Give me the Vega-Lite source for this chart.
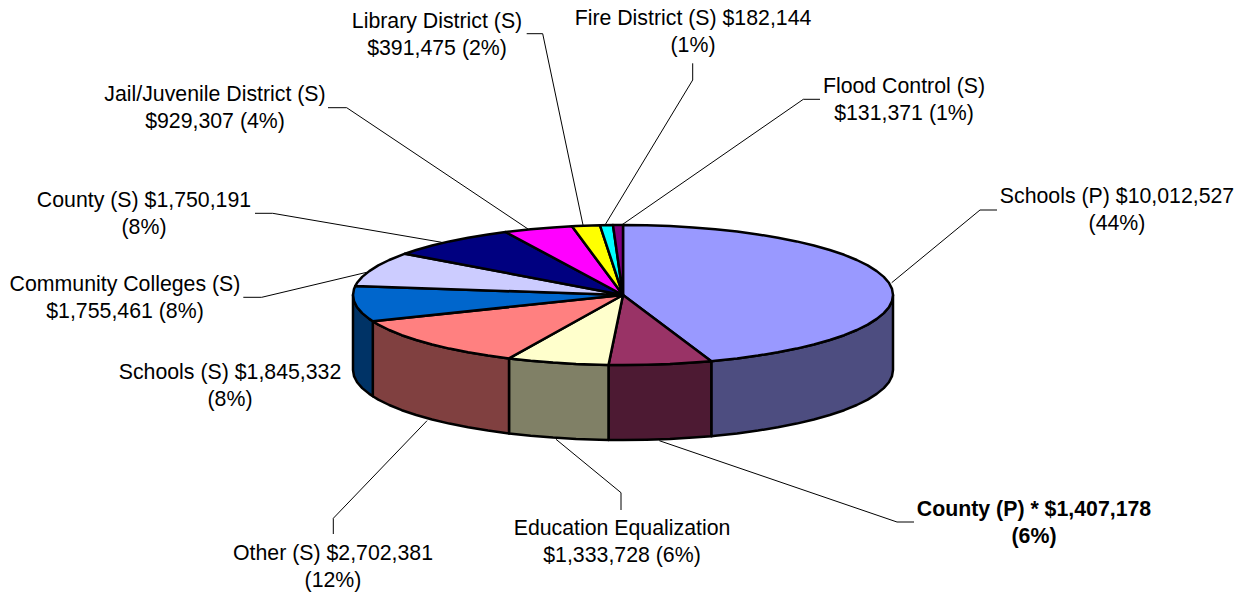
{
"$schema":"https://vega.github.io/schema/vega-lite/v6.json",
"width":1241,"height":595,"autosize":{"type":"fit","contains":"padding"},"padding":0,
"background":"white","view":{"stroke":null},
"config":{"axis":{"grid":false}},
"datasets":{
"side":[
{"s":"A","x":893,"y":295,"y2":370},{"s":"A","x":892,"y":301.1,"y2":376.1},{"s":"A","x":888.9,"y":307.2,"y2":382.2},{"s":"A","x":883.8,"y":313.1,"y2":388.1},{"s":"A","x":876.7,"y":318.9,"y2":393.9},{"s":"A","x":867.7,"y":324.6,"y2":399.6},{"s":"A","x":856.8,"y":330,"y2":405},{"s":"A","x":844.2,"y":335.2,"y2":410.2},{"s":"A","x":829.8,"y":340,"y2":415},{"s":"A","x":813.9,"y":344.5,"y2":419.5},{"s":"A","x":796.6,"y":348.6,"y2":423.6},{"s":"A","x":777.9,"y":352.3,"y2":427.3},{"s":"A","x":758,"y":355.6,"y2":430.6},{"s":"A","x":737.1,"y":358.4,"y2":433.4},{"s":"A","x":715.3,"y":360.8,"y2":435.8},{"s":"A","x":711.3,"y":361.2,"y2":436.2},
{"s":"B","x":711.3,"y":361.2,"y2":436.2},{"s":"B","x":692.9,"y":362.6,"y2":437.6},{"s":"B","x":669.9,"y":363.9,"y2":438.9},{"s":"B","x":646.5,"y":364.7,"y2":439.7},{"s":"B","x":623,"y":365,"y2":440},{"s":"B","x":608.5,"y":364.9,"y2":439.9},
{"s":"C","x":608.5,"y":364.9,"y2":439.9},{"s":"C","x":599.5,"y":364.7,"y2":439.7},{"s":"C","x":576.1,"y":363.9,"y2":438.9},{"s":"C","x":553.1,"y":362.6,"y2":437.6},{"s":"C","x":530.7,"y":360.8,"y2":435.8},{"s":"C","x":509,"y":358.4,"y2":433.4},
{"s":"D","x":509,"y":358.4,"y2":433.4},{"s":"D","x":488,"y":355.6,"y2":430.6},{"s":"D","x":468.1,"y":352.3,"y2":427.3},{"s":"D","x":449.4,"y":348.6,"y2":423.6},{"s":"D","x":432.1,"y":344.5,"y2":419.5},{"s":"D","x":416.2,"y":340,"y2":415},{"s":"D","x":401.8,"y":335.2,"y2":410.2},{"s":"D","x":389.2,"y":330,"y2":405},{"s":"D","x":378.3,"y":324.6,"y2":399.6},{"s":"D","x":372.8,"y":321.3,"y2":396.3},
{"s":"E","x":372.8,"y":321.3,"y2":396.3},{"s":"E","x":369.3,"y":318.9,"y2":393.9},{"s":"E","x":362.2,"y":313.1,"y2":388.1},{"s":"E","x":357.1,"y":307.2,"y2":382.2},{"s":"E","x":354,"y":301.1,"y2":376.1},{"s":"E","x":353,"y":295,"y2":370}
],
"top":[
{"s":"A","i":0,"x":623,"y":295},{"s":"A","i":1,"x":623,"y":225},{"s":"A","i":2,"x":646.5,"y":225.3},{"s":"A","i":3,"x":669.9,"y":226.1},{"s":"A","i":4,"x":692.9,"y":227.4},{"s":"A","i":5,"x":715.3,"y":229.2},{"s":"A","i":6,"x":737.1,"y":231.6},{"s":"A","i":7,"x":758,"y":234.4},{"s":"A","i":8,"x":777.9,"y":237.7},{"s":"A","i":9,"x":796.6,"y":241.4},{"s":"A","i":10,"x":813.9,"y":245.5},{"s":"A","i":11,"x":829.8,"y":250},{"s":"A","i":12,"x":844.2,"y":254.8},{"s":"A","i":13,"x":856.8,"y":260},{"s":"A","i":14,"x":867.7,"y":265.4},{"s":"A","i":15,"x":876.7,"y":271.1},{"s":"A","i":16,"x":883.8,"y":276.9},{"s":"A","i":17,"x":888.9,"y":282.8},{"s":"A","i":18,"x":892,"y":288.9},{"s":"A","i":19,"x":893,"y":295},{"s":"A","i":20,"x":892,"y":301.1},{"s":"A","i":21,"x":888.9,"y":307.2},{"s":"A","i":22,"x":883.8,"y":313.1},{"s":"A","i":23,"x":876.7,"y":318.9},{"s":"A","i":24,"x":867.7,"y":324.6},{"s":"A","i":25,"x":856.8,"y":330},{"s":"A","i":26,"x":844.2,"y":335.2},{"s":"A","i":27,"x":829.8,"y":340},{"s":"A","i":28,"x":813.9,"y":344.5},{"s":"A","i":29,"x":796.6,"y":348.6},{"s":"A","i":30,"x":777.9,"y":352.3},{"s":"A","i":31,"x":758,"y":355.6},{"s":"A","i":32,"x":737.1,"y":358.4},{"s":"A","i":33,"x":715.3,"y":360.8},{"s":"A","i":34,"x":711.3,"y":361.2},{"s":"A","i":35,"x":623,"y":295},
{"s":"B","i":0,"x":623,"y":295},{"s":"B","i":1,"x":711.3,"y":361.2},{"s":"B","i":2,"x":692.9,"y":362.6},{"s":"B","i":3,"x":669.9,"y":363.9},{"s":"B","i":4,"x":646.5,"y":364.7},{"s":"B","i":5,"x":623,"y":365},{"s":"B","i":6,"x":608.5,"y":364.9},{"s":"B","i":7,"x":623,"y":295},
{"s":"C","i":0,"x":623,"y":295},{"s":"C","i":1,"x":608.5,"y":364.9},{"s":"C","i":2,"x":599.5,"y":364.7},{"s":"C","i":3,"x":576.1,"y":363.9},{"s":"C","i":4,"x":553.1,"y":362.6},{"s":"C","i":5,"x":530.7,"y":360.8},{"s":"C","i":6,"x":509,"y":358.4},{"s":"C","i":7,"x":623,"y":295},
{"s":"D","i":0,"x":623,"y":295},{"s":"D","i":1,"x":509,"y":358.4},{"s":"D","i":3,"x":488,"y":355.6},{"s":"D","i":4,"x":468.1,"y":352.3},{"s":"D","i":5,"x":449.4,"y":348.6},{"s":"D","i":6,"x":432.1,"y":344.5},{"s":"D","i":7,"x":416.2,"y":340},{"s":"D","i":8,"x":401.8,"y":335.2},{"s":"D","i":9,"x":389.2,"y":330},{"s":"D","i":10,"x":378.3,"y":324.6},{"s":"D","i":11,"x":372.8,"y":321.3},{"s":"D","i":12,"x":623,"y":295},
{"s":"E","i":0,"x":623,"y":295},{"s":"E","i":1,"x":372.8,"y":321.3},{"s":"E","i":2,"x":369.3,"y":318.9},{"s":"E","i":3,"x":362.2,"y":313.1},{"s":"E","i":4,"x":357.1,"y":307.2},{"s":"E","i":5,"x":354,"y":301.1},{"s":"E","i":6,"x":353,"y":295},{"s":"E","i":7,"x":354,"y":288.9},{"s":"E","i":8,"x":355.3,"y":285.9},{"s":"E","i":9,"x":623,"y":295},
{"s":"F","i":0,"x":623,"y":295},{"s":"F","i":1,"x":355.3,"y":285.9},{"s":"F","i":2,"x":357.1,"y":282.8},{"s":"F","i":3,"x":362.2,"y":276.9},{"s":"F","i":4,"x":369.3,"y":271.1},{"s":"F","i":5,"x":378.3,"y":265.4},{"s":"F","i":6,"x":389.2,"y":260},{"s":"F","i":7,"x":405,"y":253.7},{"s":"F","i":9,"x":623,"y":295},
{"s":"G","i":0,"x":623,"y":295},{"s":"G","i":1,"x":405,"y":253.7},{"s":"G","i":2,"x":416.2,"y":250},{"s":"G","i":3,"x":432.1,"y":245.5},{"s":"G","i":4,"x":449.4,"y":241.4},{"s":"G","i":5,"x":468.1,"y":237.7},{"s":"G","i":6,"x":488,"y":234.4},{"s":"G","i":7,"x":505.5,"y":232},{"s":"G","i":8,"x":623,"y":295},
{"s":"H","i":0,"x":623,"y":295},{"s":"H","i":1,"x":505.5,"y":232},{"s":"H","i":3,"x":530.7,"y":229.2},{"s":"H","i":4,"x":553.1,"y":227.4},{"s":"H","i":5,"x":572,"y":226.3},{"s":"H","i":6,"x":623,"y":295},
{"s":"I","i":0,"x":623,"y":295},{"s":"I","i":1,"x":572,"y":226.3},{"s":"I","i":2,"x":576.1,"y":226.1},{"s":"I","i":3,"x":600,"y":225.3},{"s":"I","i":4,"x":623,"y":295},
{"s":"J","i":0,"x":623,"y":295},{"s":"J","i":1,"x":600,"y":225.3},{"s":"J","i":2,"x":613,"y":225.1},{"s":"J","i":3,"x":623,"y":295},
{"s":"K","i":0,"x":623,"y":295},{"s":"K","i":1,"x":613,"y":225.1},{"s":"K","i":2,"x":623,"y":225},{"s":"K","i":3,"x":623,"y":295}
],
"leaders":[
{"l":"Schools (P)","i":0,"x":891.7,"y":282.7},{"l":"Schools (P)","i":1,"x":980,"y":210},{"l":"Schools (P)","i":2,"x":997,"y":210},
{"l":"Flood Control (S)","i":0,"x":621.7,"y":225},{"l":"Flood Control (S)","i":1,"x":803.3,"y":99.3},{"l":"Flood Control (S)","i":2,"x":820,"y":99.3},
{"l":"Fire District (S)","i":0,"x":605,"y":225},{"l":"Fire District (S)","i":1,"x":692.7,"y":80},{"l":"Fire District (S)","i":2,"x":692.7,"y":63.3},
{"l":"Library District (S)","i":0,"x":583,"y":225},{"l":"Library District (S)","i":1,"x":542.7,"y":33.7},{"l":"Library District (S)","i":2,"x":526.7,"y":33.7},
{"l":"Jail/Juvenile District (S)","i":0,"x":528,"y":229},{"l":"Jail/Juvenile District (S)","i":1,"x":346.7,"y":107.7},{"l":"Jail/Juvenile District (S)","i":2,"x":328,"y":107.7},
{"l":"County (S)","i":0,"x":441.7,"y":242.3},{"l":"County (S)","i":1,"x":272.7,"y":213.3},{"l":"County (S)","i":2,"x":255,"y":213.3},
{"l":"Community Colleges (S)","i":0,"x":366.7,"y":272.3},{"l":"Community Colleges (S)","i":1,"x":261.7,"y":297.3},{"l":"Community Colleges (S)","i":2,"x":243.3,"y":297.3},
{"l":"Other (S)","i":0,"x":427,"y":420.7},{"l":"Other (S)","i":1,"x":333.3,"y":518.3},{"l":"Other (S)","i":2,"x":333.3,"y":534},
{"l":"Education Equalization","i":0,"x":556,"y":439.3},{"l":"Education Equalization","i":1,"x":621,"y":492.7},{"l":"Education Equalization","i":2,"x":621,"y":510},
{"l":"County (P)","i":0,"x":659.3,"y":440.7},{"l":"County (P)","i":1,"x":897,"y":522},{"l":"County (P)","i":2,"x":914,"y":522}
],
"labels":[
{"name":"Schools (P)","value":10012527,"pct":44,"label":"Schools (P) $10,012,527\n(44%)","x":1117,"y":196.5,"b":false},
{"name":"County (P)","value":1407178,"pct":6,"label":"County (P) * $1,407,178\n(6%)","x":1034,"y":509.5,"b":true},
{"name":"Education Equalization","value":1333728,"pct":6,"label":"Education Equalization\n$1,333,728 (6%)","x":622,"y":528.5,"b":false},
{"name":"Other (S)","value":2702381,"pct":12,"label":"Other (S) $2,702,381\n(12%)","x":333,"y":553.5,"b":false},
{"name":"Schools (S)","value":1845332,"pct":8,"label":"Schools (S) $1,845,332\n(8%)","x":230,"y":372.5,"b":false},
{"name":"Community Colleges (S)","value":1755461,"pct":8,"label":"Community Colleges (S)\n$1,755,461 (8%)","x":125,"y":284.5,"b":false},
{"name":"County (S)","value":1750191,"pct":8,"label":"County (S) $1,750,191\n(8%)","x":144,"y":200.5,"b":false},
{"name":"Jail/Juvenile District (S)","value":929307,"pct":4,"label":"Jail/Juvenile District (S)\n$929,307 (4%)","x":215,"y":94.5,"b":false},
{"name":"Library District (S)","value":391475,"pct":2,"label":"Library District (S)\n$391,475 (2%)","x":437,"y":21.5,"b":false},
{"name":"Fire District (S)","value":182144,"pct":1,"label":"Fire District (S) $182,144\n(1%)","x":693,"y":18.5,"b":false},
{"name":"Flood Control (S)","value":131371,"pct":1,"label":"Flood Control (S)\n$131,371 (1%)","x":904,"y":86.5,"b":false}
]
},
"layer":[
{"data":{"name":"side"},
 "mark":{"type":"area","stroke":"#000","strokeWidth":2.5,"strokeJoin":"round","interpolate":"linear"},
 "encoding":{
  "x":{"field":"x","type":"quantitative","scale":{"domain":[0,1241]},"axis":null},
  "y":{"field":"y","type":"quantitative","scale":{"domain":[595,0]},"axis":null},
  "y2":{"field":"y2"},
  "fill":{"field":"s","type":"nominal","legend":null,"scale":{"domain":["A","B","C","D","E"],"range":["#4d4d80","#4d1a33","#808066","#804040","#003366"]}}
 }},
{"data":{"name":"top"},
 "mark":{"type":"line","stroke":"#000","strokeWidth":2.5,"strokeJoin":"round"},
 "encoding":{
  "x":{"field":"x","type":"quantitative","scale":{"domain":[0,1241]},"axis":null},
  "y":{"field":"y","type":"quantitative","scale":{"domain":[595,0]},"axis":null},
  "order":{"field":"i","type":"quantitative"},
  "fill":{"field":"s","type":"nominal","legend":null,"scale":{"domain":["A","B","C","D","E","F","G","H","I","J","K"],"range":["#9999ff","#993366","#ffffcc","#ff8080","#0066cc","#ccccff","#000080","#ff00ff","#ffff00","#00ffff","#800080"]}}
 }},
{"data":{"name":"leaders"},
 "mark":{"type":"line","stroke":"#000","strokeWidth":1},
 "encoding":{
  "x":{"field":"x","type":"quantitative","scale":{"domain":[0,1241]},"axis":null},
  "y":{"field":"y","type":"quantitative","scale":{"domain":[595,0]},"axis":null},
  "order":{"field":"i","type":"quantitative"},
  "detail":{"field":"l"}
 }},
{"data":{"name":"labels"},"transform":[{"filter":"!datum.b"}],
 "mark":{"type":"text","font":"Liberation Sans","fontSize":21.3,"lineBreak":"\n","lineHeight":27.5,"align":"center","baseline":"middle","fill":"#000"},
 "encoding":{
  "x":{"field":"x","type":"quantitative","scale":{"domain":[0,1241]},"axis":null},
  "y":{"field":"y","type":"quantitative","scale":{"domain":[595,0]},"axis":null},
  "text":{"field":"label"}
 }},
{"data":{"name":"labels"},"transform":[{"filter":"datum.b"}],
 "mark":{"type":"text","font":"Liberation Sans","fontSize":21.3,"fontWeight":"bold","lineBreak":"\n","lineHeight":27.5,"align":"center","baseline":"middle","fill":"#000"},
 "encoding":{
  "x":{"field":"x","type":"quantitative","scale":{"domain":[0,1241]},"axis":null},
  "y":{"field":"y","type":"quantitative","scale":{"domain":[595,0]},"axis":null},
  "text":{"field":"label"}
 }}
],
"resolve":{"scale":{"fill":"independent"}}
}
